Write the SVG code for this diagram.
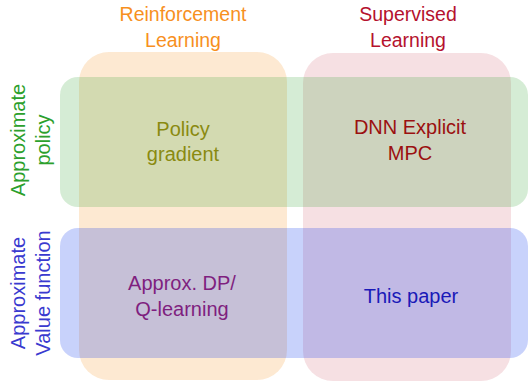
<svg xmlns="http://www.w3.org/2000/svg" width="528" height="385" viewBox="0 0 528 385">
<style>
text{font-family:"Liberation Sans","DejaVu Sans",sans-serif;font-size:20px;text-anchor:middle}
.hdr{font-size:19.5px}
</style>
<rect width="528" height="385" fill="#ffffff"/>
<g id="col-rl"><rect x="79" y="52" width="208" height="328" rx="30" fill="#f7901e" fill-opacity="0.2"/></g>
<g id="col-sl"><rect x="303" y="53" width="208" height="328" rx="30" fill="#c33044" fill-opacity="0.15"/></g>
<g id="row-policy"><rect x="60" y="77" width="468" height="130" rx="18" fill="#2ca02c" fill-opacity="0.2"/></g>
<g id="row-value"><rect x="60" y="228" width="468" height="130" rx="18" fill="#002fec" fill-opacity="0.216"/></g>
<g id="connectors"></g>
<g id="labels">
<text class="hdr" x="183" y="21" fill="#f7901e">Reinforcement</text>
<text class="hdr" x="183" y="47" fill="#f7901e">Learning</text>
<text class="hdr" x="408" y="21" fill="#b5122e">Supervised</text>
<text class="hdr" x="408" y="47" fill="#b5122e">Learning</text>
<text transform="translate(25,140) rotate(-90)" fill="#2ca02c">Approximate</text>
<text transform="translate(50,140) rotate(-90)" fill="#2ca02c">policy</text>
<text transform="translate(25,293) rotate(-90)" fill="#3a3acf">Approximate</text>
<text transform="translate(50,293) rotate(-90)" fill="#3a3acf">Value function</text>
</g>
<g id="node-pg"><text x="183" y="136" fill="#8a8a10">Policy</text><text x="183" y="161" fill="#8a8a10">gradient</text></g>
<g id="node-dnn"><text x="410" y="134" font-size="21" fill="#9b1010">DNN Explicit</text><text x="410" y="160" font-size="21" fill="#9b1010">MPC</text></g>
<g id="node-adp"><text x="182" y="290" font-size="19.5" fill="#7f1f7f">Approx. DP/</text><text x="182" y="316" font-size="19.5" fill="#7f1f7f">Q-learning</text></g>
<g id="node-paper"><text x="411" y="303" font-size="22" fill="#1a1ab8">This paper</text></g>
</svg>
